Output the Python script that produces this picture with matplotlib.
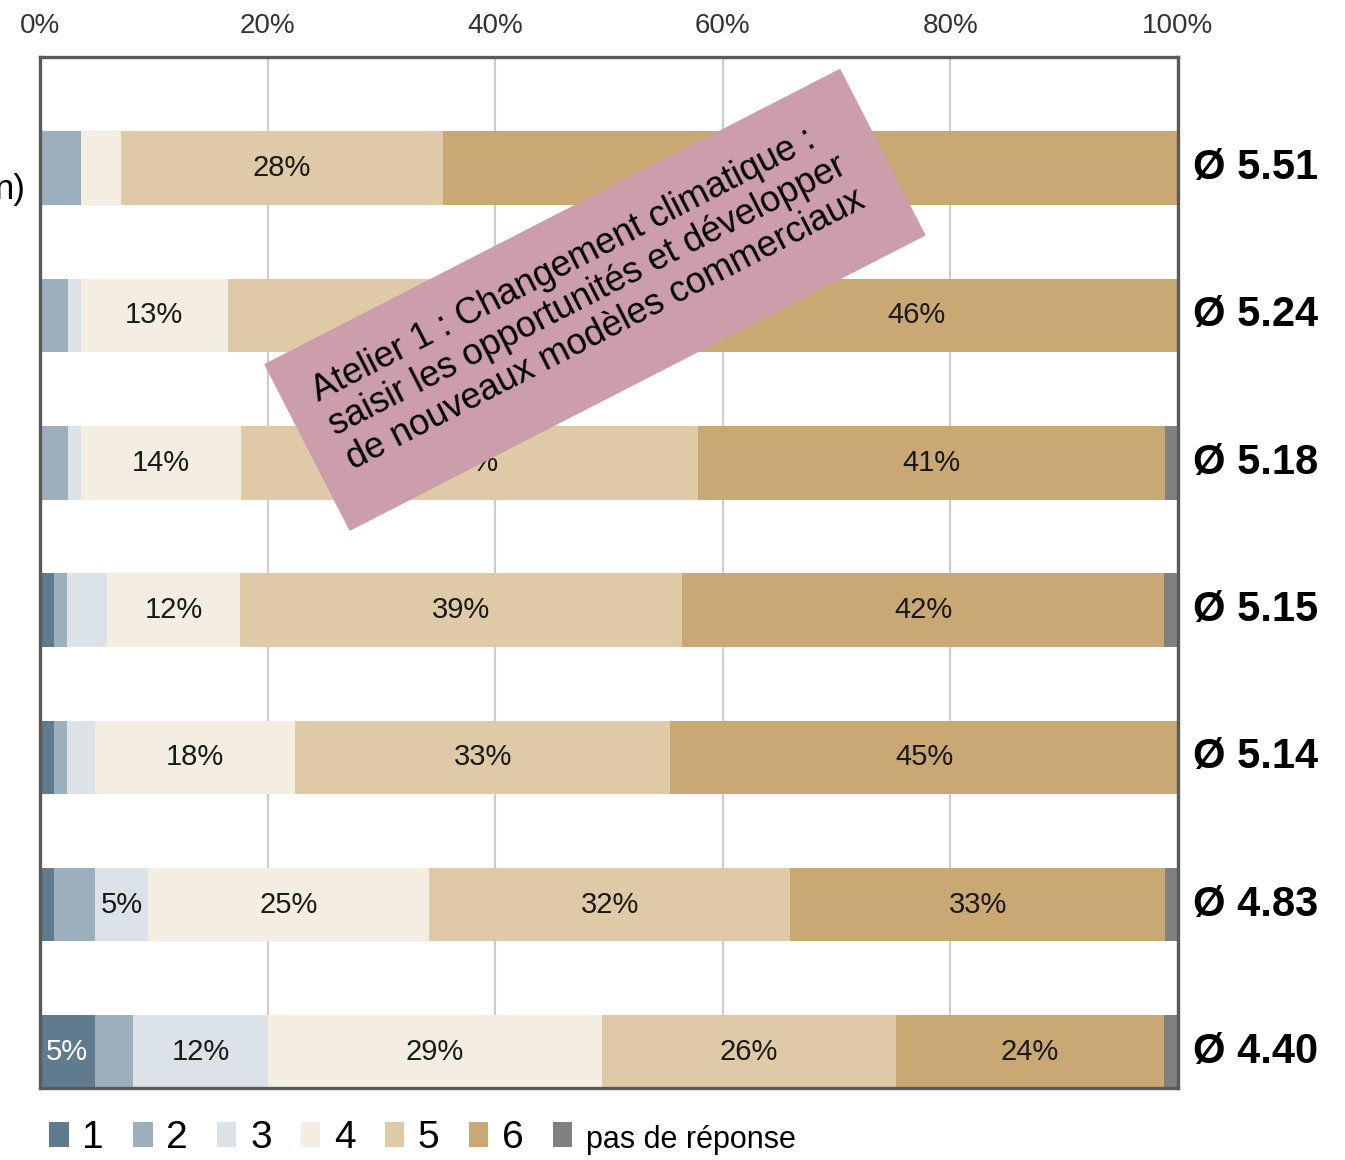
import numpy as np
import matplotlib
matplotlib.use("Agg")
import matplotlib.pyplot as plt
from matplotlib.patches import Patch, Rectangle

plt.rcParams['font.family'] = ['Liberation Sans', 'DejaVu Sans']

# share of answers per rating (%), one value per row, top row first
s1 = [0.0, 0.0, 0.0, 1.2, 1.2, 1.2, 4.8]
s2 = [3.6, 2.5, 2.5, 1.2, 1.2, 3.6, 3.4]
s3 = [0.0, 1.1, 1.1, 3.5, 2.4, 4.7, 11.8]
s4 = [3.5, 12.9, 14.1, 11.7, 17.6, 24.7, 29.4]
s5 = [28.3, 37.5, 40.1, 38.8, 33.0, 31.7, 25.8]
s6 = [64.6, 46.0, 41.1, 42.4, 44.6, 33.0, 23.6]
no_answer = [0.0, 0.0, 1.1, 1.1, 0.0, 1.1, 1.1]
averages = [5.51, 5.24, 5.18, 5.15, 5.14, 4.83, 4.40]

series = [s1, s2, s3, s4, s5, s6, no_answer]
legend_labels = ['1', '2', '3', '4', '5', '6', 'pas de réponse']
colors = ['#5f7b8d', '#9cafbd', '#dce3e8', '#f4eee2', '#dfcaa8', '#c9a874', '#808080']
x_ticks = [0, 20, 40, 60, 80, 100]

fig = plt.figure(figsize=(13.45, 11.6), dpi=100)
ax = fig.add_axes([40/1345, 1 - 1088/1160, 1138/1345, 1031/1160])

rows = np.arange(len(s1))
left = np.zeros(len(s1))
for i, vals in enumerate(series):
    vals = np.array(vals)
    ax.barh(rows, vals, left=left, height=0.5, color=colors[i],
            edgecolor='none', zorder=2)
    for r, v in enumerate(vals):
        if v >= 4.5:
            ax.text(left[r] + v / 2, r, f"{round(v)}%", ha='center', va='center',
                    fontsize=21, color='white' if i == 0 else '#1a1a1a', zorder=3)
    left += vals

for r, a in enumerate(averages):
    ax.text(1.013, r, f"Ø {a:.2f}", transform=ax.get_yaxis_transform(),
            ha='left', va='center', fontsize=30, fontweight='bold', color='black')

ax.set_xlim(0, 100)
ax.set_ylim(6.245, -0.755)
ax.set_xticks(x_ticks)
ax.set_xticklabels([f"{t}%" for t in x_ticks], fontsize=20, color='#333333')
ax.xaxis.tick_top()
ax.tick_params(axis='x', length=0, pad=13)
ax.set_yticks([])
ax.grid(axis='x', color='#cccccc', linewidth=1.5, zorder=0)
ax.set_axisbelow(True)
for sp in ax.spines.values():
    sp.set_color('#5a5a5a')
    sp.set_linewidth(2.4)
    sp.set_zorder(4)

# cut-off category label on the left edge (cropped in the original too)
fig.text(26/1345, 1 - 190/1160, "n)", ha='right', va='center', fontsize=25)

# pink workshop note, rotated
box = Rectangle((3.50, 6.30), 6.46, 1.86, angle=27.16, color='#cc9daa',
                transform=fig.dpi_scale_trans, zorder=10)
fig.add_artist(box)
fig.text(5.88, 8.64, "Atelier 1 : Changement climatique :\n"
         "saisir les opportunités et développer\n"
         "de nouveaux modèles commerciaux",
         transform=fig.dpi_scale_trans, rotation=27.16, rotation_mode='anchor',
         ha='center', va='center', multialignment='left', fontsize=26,
         linespacing=1.12, color='black', zorder=11)

handles = [Patch(facecolor=c, edgecolor='none') for c in colors]
leg = fig.legend(handles, legend_labels, loc='lower left',
                 bbox_to_anchor=(22/1345, -0.02), ncol=7, frameon=False,
                 fontsize=28, handlelength=0.5, handleheight=0.6,
                 handletextpad=0.35, columnspacing=0.75, borderpad=0.2)
leg.get_texts()[-1].set_fontsize(22)

fig.savefig("out.png", dpi=100)
